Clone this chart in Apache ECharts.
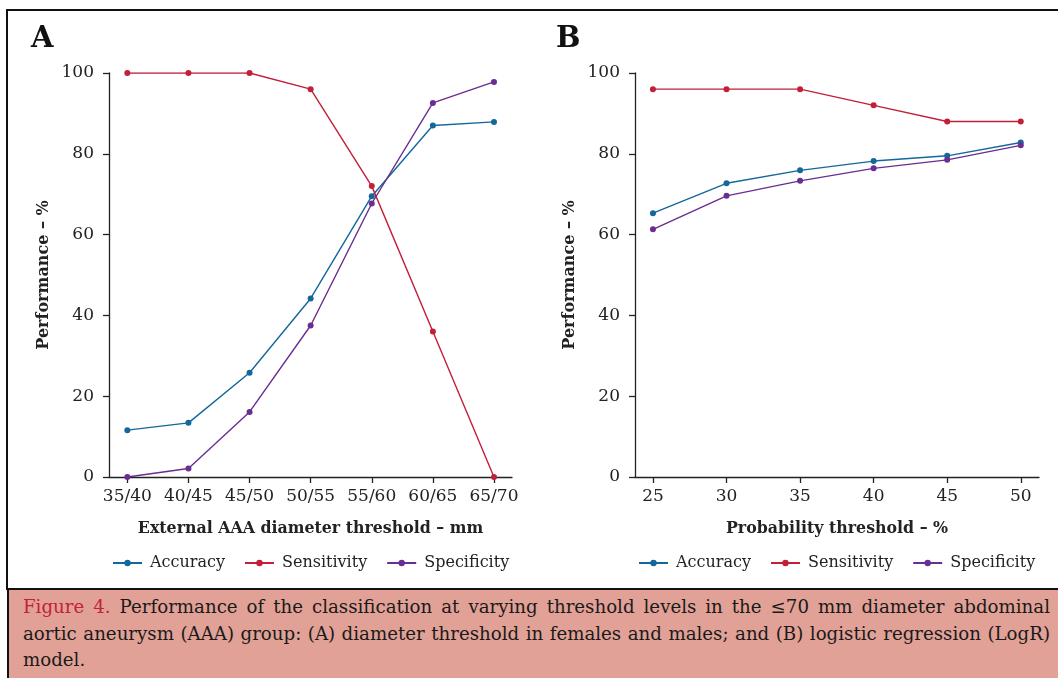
<!DOCTYPE html>
<html>
<head>
<meta charset="utf-8">
<script src="https://cdn.jsdelivr.net/npm/echarts@6/dist/echarts.min.js"></script>
<style>
html,body{margin:0;padding:0;background:#fff;}
#chart{position:absolute;left:0;top:0;width:1058px;height:678px;}
#cap{position:absolute;left:7px;top:588px;width:1051px;height:90px;background:#e2a196;border-left:2px solid #111;border-top:2px solid #111;box-sizing:border-box;padding:4px 8px 0 14px;font-family:"DejaVu Serif",serif;font-size:18.2px;color:#1a1a1a;line-height:26.5px;}
#cap .j{text-align:justify;text-align-last:justify;white-space:nowrap;}
#cap .r{color:#c2213a;}
</style>
</head>
<body>
<div id="chart"></div>
<div id="cap">
<div class="j"><span class="r">Figure 4.</span> Performance of the classification at varying threshold levels in the ≤70 mm diameter abdominal</div>
<div class="j">aortic aneurysm (AAA) group: (A) diameter threshold in females and males; and (B) logistic regression (LogR)</div>
<div>model.</div>
</div>
<script>
// Panel A data
const catsA = ['35/40','40/45','45/50','50/55','55/60','60/65','65/70'];
const accA  = [11.6, 13.4, 25.8, 44.2, 69.5, 87.0, 87.9];
const senA  = [100, 100, 100, 96, 72, 36, 0];
const speA  = [0, 2.1, 16.1, 37.5, 67.7, 92.6, 97.8];
// Panel B data
const thrB  = [25, 30, 35, 40, 45, 50];
const accB  = [65.3, 72.7, 75.9, 78.2, 79.5, 82.8];
const senB  = [96, 96, 96, 92, 88, 88];
const speB  = [61.3, 69.6, 73.3, 76.4, 78.5, 82.1];
const yTicks = [0, 20, 40, 60, 80, 100];
const seriesNames = ['Accuracy', 'Sensitivity', 'Specificity'];

const colors = ['#13679a', '#c21f38', '#6a2d92'];
const FONT = '"DejaVu Serif", serif';
const ink = '#222';

function yAxis(gi){
  return {
    type:'value', gridIndex:gi, min:0, max:100, interval:20,
    name:'Performance – %', nameLocation:'middle', nameGap:57, nameRotate:90,
    nameTextStyle:{fontFamily:FONT, fontWeight:'bold', fontSize:16, color:ink},
    axisLine:{show:true, onZero:false, lineStyle:{color:ink, width:1.3}},
    axisTick:{show:true, length:6, lineStyle:{color:ink, width:1.3}},
    axisLabel:{fontFamily:FONT, fontSize:17, color:ink, margin:15},
    splitLine:{show:false}
  };
}
function xAxis(gi, min, max, ticks, fmt, name){
  return {
    type:'value', gridIndex:gi, min:min, max:max,
    name:name, nameLocation:'middle', nameGap:44,
    nameTextStyle:{fontFamily:FONT, fontWeight:'bold', fontSize:15.8, color:ink},
    axisLine:{show:true, onZero:false, lineStyle:{color:ink, width:1.3}},
    axisTick:{show:true, length:6, customValues:ticks, lineStyle:{color:ink, width:1.3}},
    axisLabel:{fontFamily:FONT, fontSize:17, color:ink, margin:11, customValues:ticks, formatter:fmt},
    splitLine:{show:false}
  };
}
function line(name, gi, data, c){
  return {
    name:name, type:'line', xAxisIndex:gi, yAxisIndex:gi, data:data,
    symbol:'circle', symbolSize:6, showSymbol:true,
    lineStyle:{color:c, width:1.4}, itemStyle:{color:c},
    emphasis:{disabled:true}, animation:false
  };
}
const idxA = catsA.map((c,i)=>i);
const A = (arr)=>arr.map((v,i)=>[i, v]);
const B = (arr)=>arr.map((v,i)=>[thrB[i], v]);

const legendBase = {
  itemWidth:29, itemHeight:8, itemGap:19, width:460, orient:'horizontal', padding:0,
  textStyle:{fontFamily:FONT, fontSize:16, color:ink, padding:[0,0,0,3]},
  data:seriesNames
};

const chart = echarts.init(document.getElementById('chart'), null, {renderer:'canvas'});
chart.setOption({
  animation:false,
  backgroundColor:'#fff',
  color:colors,
  graphic:[
    {type:'rect', shape:{x:7, y:10, width:1060, height:579}, style:{fill:null, stroke:'#111', lineWidth:2}, z:-1},
    {type:'text', left:31, top:25, style:{text:'A', fontFamily:FONT, fontWeight:'bold', fontSize:29, fill:'#111'}},
    {type:'text', left:556, top:25, style:{text:'B', fontFamily:FONT, fontWeight:'bold', fontSize:29, fill:'#111'}}
  ],
  grid:[
    {left:109, right:546, top:73, bottom:201},
    {left:635, right:19, top:73, bottom:201}
  ],
  xAxis:[
    xAxis(0, -0.30, 6.295, idxA, (v)=>catsA[Math.round(v)], 'External AAA diameter threshold – mm'),
    xAxis(1, 23.78, 51.24, thrB, (v)=>String(v), 'Probability threshold – %')
  ],
  yAxis:[yAxis(0), yAxis(1)],
  legend:[
    Object.assign({}, legendBase, {left:112, top:555}),
    Object.assign({}, legendBase, {left:638, top:555})
  ],
  series:[
    line('Accuracy', 0, A(accA), colors[0]),
    line('Sensitivity', 0, A(senA), colors[1]),
    line('Specificity', 0, A(speA), colors[2]),
    line('Accuracy', 1, B(accB), colors[0]),
    line('Sensitivity', 1, B(senB), colors[1]),
    line('Specificity', 1, B(speB), colors[2])
  ]
});
</script>
</body>
</html>
